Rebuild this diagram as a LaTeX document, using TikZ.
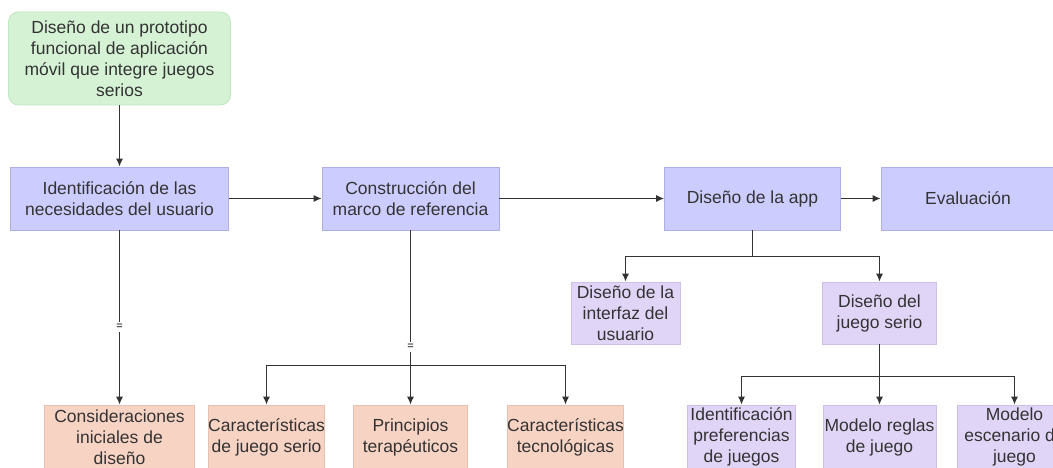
\documentclass[tikz,border=0pt]{standalone}
\usepackage{fontspec}
\setmainfont{Liberation Sans}
\usetikzlibrary{arrows.meta}
\definecolor{txt}{HTML}{333333}
\definecolor{greenfill}{HTML}{D5F2D5}
\definecolor{greenline}{HTML}{BFE6BF}
\definecolor{bluefill}{HTML}{CCCCFF}
\definecolor{blueline}{HTML}{AFAFE6}
\definecolor{purpfill}{HTML}{E1D5F7}
\definecolor{purpline}{HTML}{CDBFE6}
\definecolor{salfill}{HTML}{F7D3C4}
\definecolor{salline}{HTML}{E6C0B0}
\definecolor{edge}{HTML}{333333}
\tikzset{
  x=1pt,y=-1pt,
  box/.style={rectangle,inner sep=0pt,align=center,text=txt,
    font=\fontsize{17.5}{21}\selectfont,line width=0.8pt},
  greenbox/.style={box,fill=greenfill,draw=greenline,rounded corners=10pt},
  bluebox/.style={box,fill=bluefill,draw=blueline},
  purpbox/.style={box,fill=purpfill,draw=purpline},
  salbox/.style={box,fill=salfill,draw=salline},
  conn/.style={draw=edge,line width=1.2pt,-{Latex[length=8pt,width=7pt]}},
  plainconn/.style={draw=edge,line width=1.2pt},
  eqlabel/.style={fill=white,inner sep=2pt,text=black,font=\fontsize{11}{12}\selectfont}
}
\begin{document}
\begin{tikzpicture}
\useasboundingbox (0,0) rectangle (1053,468);
\clip (0,0) rectangle (1053,468);
\fill[white] (0,0) rectangle (1053,468);

\node[greenbox,minimum width=222pt,minimum height=93pt] (top) at (119.5,58.5)
  {Diseño de un prototipo\\funcional de aplicación\\móvil que integre juegos\\serios};

\node[bluebox,minimum width=218pt,minimum height=63pt] (b1) at (119.5,198.5)
  {Identificación de las\\necesidades del usuario};
\node[bluebox,minimum width=177pt,minimum height=63pt] (b2) at (410.5,198.5)
  {Construcción del\\marco de referencia};
\node[bluebox,minimum width=176pt,minimum height=63pt] (b3) at (752.5,198.5)
  {Diseño de la app};
\node[bluebox,minimum width=174pt,minimum height=63pt] (b4) at (968,198.5)
  {Evaluación};

\node[purpbox,minimum width=109pt,minimum height=62pt] (ui) at (625.5,313)
  {Diseño de la\\interfaz del\\usuario};
\node[purpbox,minimum width=114pt,minimum height=62pt] (js) at (879.5,313)
  {Diseño del\\juego serio};

\node[purpbox,minimum width=108pt,minimum height=64pt] (pref) at (741.5,437)
  {Identificación\\preferencias\\de juegos};
\node[purpbox,minimum width=113pt,minimum height=64pt] (reg) at (879.5,437)
  {Modelo reglas\\de juego};
\node[purpbox,minimum width=114pt,minimum height=64pt] (esc) at (1014.5,437)
  {Modelo\\escenario de\\juego};

\node[salbox,minimum width=150pt,minimum height=64pt] (cons) at (119.5,437)
  {Consideraciones\\iniciales de\\diseño};
\node[salbox,minimum width=114pt,minimum height=64pt] (cjs) at (266.5,437)
  {Características\\de juego serio};
\node[salbox,minimum width=114pt,minimum height=64pt] (pt) at (410.5,437)
  {Principios\\terapéuticos};
\node[salbox,minimum width=115pt,minimum height=64pt] (ct) at (565.5,437)
  {Características\\tecnológicas};

\coordinate (j1) at (410.5,365.5);
\coordinate (j2) at (752.5,256.5);
\coordinate (j3) at (879.5,376.5);

\draw[conn] (top.south) -- (b1.north);
\draw[conn] (b1.east) -- (b2.west);
\draw[conn] (b2.east) -- (b3.west);
\draw[conn] (b3.east) -- (b4.west);

\draw[conn] (b1.south) -- node[eqlabel,pos=0.554] {=} (cons.north);
\draw[conn] (b2.south) -- node[eqlabel,pos=0.67] {=} (pt.north);
\draw[conn] (j1) -| (cjs.north);
\draw[conn] (j1) -| (ct.north);

\draw[plainconn] (b3.south) -- (j2);
\draw[conn] (j2) -| (ui.north);
\draw[conn] (j2) -| (js.north);

\draw[plainconn] (js.south) -- (j3);
\draw[conn] (j3) -| (pref.north);
\draw[conn] (j3) -- (reg.north);
\draw[conn] (j3) -| (esc.north);
\end{tikzpicture}
\end{document}
